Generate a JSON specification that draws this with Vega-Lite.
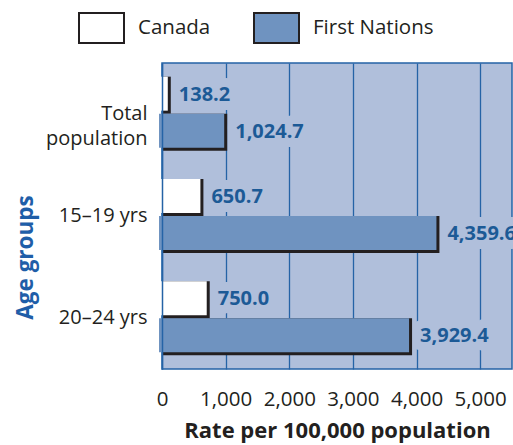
{
  "$schema": "https://vega.github.io/schema/vega-lite/v6.json",
  "width": 350,
  "height": 306,
  "autosize": {"type": "none"},
  "padding": {"left": 162, "top": 63, "right": 1, "bottom": 76},
  "background": "#ffffff",
  "config": {
    "font": "Open Sans",
    "view": {"fill": "#b0bfdb", "stroke": "#2563a6", "strokeWidth": 1.5}
  },
  "data": {
    "values": [
      {"group": "Total population", "series": "Canada", "value": 138.2},
      {"group": "Total population", "series": "First Nations", "value": 1024.7},
      {"group": "15–19 yrs", "series": "Canada", "value": 650.7},
      {"group": "15–19 yrs", "series": "First Nations", "value": 4359.6},
      {"group": "20–24 yrs", "series": "Canada", "value": 750.0},
      {"group": "20–24 yrs", "series": "First Nations", "value": 3929.4}
    ]
  },
  "encoding": {
    "y": {
      "field": "group",
      "type": "nominal",
      "sort": ["Total population", "15–19 yrs", "20–24 yrs"],
      "scale": {"paddingInner": 0.27, "paddingOuter": 0.13},
      "axis": {
        "zindex": 1,
        "title": "Age groups",
        "titleFontSize": 22.5,
        "titleFontWeight": "bold",
        "titleColor": "#1f5ea8",
        "titleX": -137,
        "titleY": 194,
        "titleAlign": "center",
        "titleAngle": -90,
        "titleBaseline": "middle",
        "domain": true,
        "domainColor": "#2563a6",
        "domainWidth": 1.5,
        "ticks": false,
        "grid": false,
        "labelPadding": 15,
        "labelFontSize": 20,
        "labelColor": "#231f20",
        "labelLineHeight": 25,
        "labelExpr": "datum.value == 'Total population' ? ['Total', 'population'] : datum.value"
      }
    },
    "x": {
      "field": "value",
      "type": "quantitative",
      "scale": {"domain": [0, 5500], "nice": false},
      "axis": {
        "title": "Rate per 100,000 population",
        "titleFontSize": 22,
        "titleFontWeight": "bold",
        "titleColor": "#231f20",
        "titlePadding": 11,
        "values": [0, 1000, 2000, 3000, 4000, 5000],
        "format": ",d",
        "labelFlush": false,
        "domain": false,
        "ticks": false,
        "grid": true,
        "gridColor": "#2563a6",
        "gridWidth": 1.3,
        "gridOpacity": 1,
        "labelPadding": 20,
        "labelFontSize": 20.5,
        "labelColor": "#231f20"
      }
    }
  },
  "layer": [
    {
      "transform": [{"filter": "datum.series == 'Canada'"}],
      "mark": {"type": "text", "align": "left", "baseline": "middle", "dx": 8, "yOffset": -19, "fontSize": 20, "fontWeight": "bold", "fill": "#b0bfdb", "stroke": "#b0bfdb", "strokeWidth": 18, "strokeJoin": "round"},
      "encoding": {"text": {"field": "value", "type": "quantitative", "format": ",.1f"}}
    },
    {
      "transform": [{"filter": "datum.series == 'First Nations'"}],
      "mark": {"type": "text", "align": "left", "baseline": "middle", "dx": 8, "yOffset": 18, "fontSize": 20, "fontWeight": "bold", "fill": "#b0bfdb", "stroke": "#b0bfdb", "strokeWidth": 18, "strokeJoin": "round"},
      "encoding": {"text": {"field": "value", "type": "quantitative", "format": ",.1f"}}
    },
    {
      "transform": [{"filter": "datum.series == 'Canada'"}],
      "mark": {"type": "bar", "height": 37, "yOffset": -18.5, "fill": "#231f20"},
      "encoding": {}
    },
    {
      "transform": [{"filter": "datum.series == 'First Nations'"}],
      "mark": {"type": "bar", "height": 37, "yOffset": 18.5, "fill": "#231f20"},
      "encoding": {}
    },
    {
      "transform": [{"filter": "datum.series == 'Canada'"}],
      "mark": {"type": "bar", "height": 34, "yOffset": -20, "xOffset": -3, "x2Offset": 3},
      "encoding": {
        "color": {
          "field": "series",
          "type": "nominal",
          "scale": {"domain": ["Canada", "First Nations"], "range": ["#ffffff", "#6f93c0"]},
          "legend": {
            "title": null,
            "orient": "none",
            "direction": "horizontal",
            "legendX": -84,
            "legendY": -51,
            "symbolType": "M-1,-1H2V1H-1Z",
            "symbolSize": 900,
            "symbolStrokeColor": "#231f20",
            "symbolStrokeWidth": 2,
            "symbolOpacity": 1,
            "labelOffset": 28,
            "labelFontSize": 20.5,
            "labelColor": "#231f20",
            "columnPadding": 39
          }
        }
      }
    },
    {
      "transform": [{"filter": "datum.series == 'First Nations'"}],
      "mark": {"type": "bar", "height": 34, "yOffset": 17, "xOffset": -3, "x2Offset": 3},
      "encoding": {"color": {"field": "series", "type": "nominal"}}
    },
    {
      "transform": [{"filter": "datum.series == 'Canada'"}],
      "mark": {"type": "text", "align": "left", "baseline": "middle", "dx": 8, "yOffset": -19, "fontSize": 20, "fontWeight": "bold", "fill": "#1c5a96"},
      "encoding": {"text": {"field": "value", "type": "quantitative", "format": ",.1f"}}
    },
    {
      "transform": [{"filter": "datum.series == 'First Nations'"}],
      "mark": {"type": "text", "align": "left", "baseline": "middle", "dx": 8, "yOffset": 18, "fontSize": 20, "fontWeight": "bold", "fill": "#1c5a96"},
      "encoding": {"text": {"field": "value", "type": "quantitative", "format": ",.1f"}}
    }
  ]
}
